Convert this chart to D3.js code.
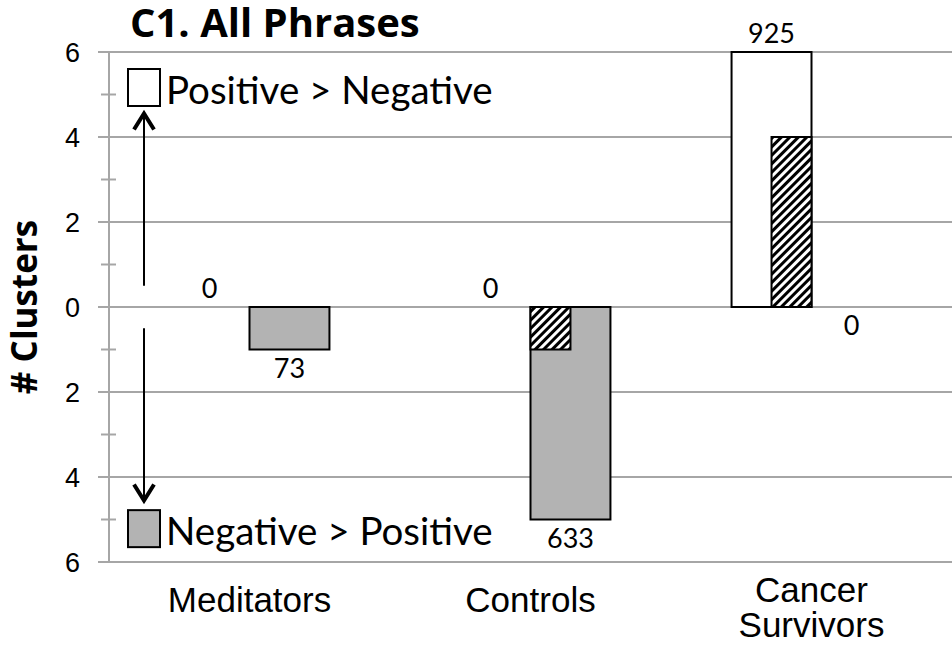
<!DOCTYPE html>
<html>
<head>
<meta charset="utf-8">
<script src="https://cdn.jsdelivr.net/npm/d3@7"></script>
<style>
  html, body { margin: 0; padding: 0; background: #fff; }
  svg { display: block; }
</style>
</head>
<body>
<svg id="chart" width="952" height="648"></svg>
<script>
// ---- data ----
const categories = ["Meditators", "Controls", "Cancer Survivors"];
const positiveClusters = [0, 0, 6];      // white bars: Positive > Negative
const negativeClusters = [1, 5, 0];      // gray bars: Negative > Positive
const positiveHatched = [0, 0, 4];       // hatched part inside white bars
const negativeHatched = [0, 1, 0];       // hatched part inside gray bars
const positiveLabels = ["0", "0", "925"];
const negativeLabels = ["73", "633", "0"];
const yTickValues = [-6, -4, -2, 0, 2, 4, 6];
const yMinorTickValues = [-5, -3, -1, 1, 3, 5];
const legendLabels = ["Positive > Negative", "Negative > Positive"];
const titleText = "C1. All Phrases";
const yAxisTitle = "# Clusters";

(function () {
// ---- layout ----
const svg = d3.select("#chart");
const plotLeft = 109, plotRight = 952, plotTop = 52, plotBottom = 562;
const calibri = "Lato, 'Open Sans', sans-serif";
const calibriBold = "'Open Sans', Lato, sans-serif";
const arial = "'Liberation Sans', Arial, sans-serif";
const gridColor = "#a6a6a6";
const grayFill = "#b3b3b3";

const x = d3.scaleBand().domain(categories).range([plotLeft, plotRight])
  .paddingInner(0.431).paddingOuter(0.2155);
const xs = d3.scaleBand().domain(["pos", "neg"]).range([0, x.bandwidth()]);
const y = d3.scaleLinear().domain([-6, 6]).range([plotBottom, plotTop]);

// hatch pattern
const defs = svg.append("defs");
const pat = defs.append("pattern").attr("id", "hatch")
  .attr("patternUnits", "userSpaceOnUse").attr("width", 6).attr("height", 6)
  .attr("patternTransform", "rotate(45)");
pat.append("rect").attr("width", 6).attr("height", 6).attr("fill", "#fff");
pat.append("rect").attr("x", 0).attr("y", 0).attr("width", 3).attr("height", 6).attr("fill", "#000");

// gridlines (major ticks extend left of axis)
svg.append("g").selectAll("line").data(yTickValues).join("line")
  .attr("x1", plotLeft - 11).attr("x2", plotRight)
  .attr("y1", d => y(d)).attr("y2", d => y(d))
  .attr("stroke", gridColor).attr("stroke-width", 2);

// axis line
svg.append("line").attr("x1", plotLeft).attr("x2", plotLeft)
  .attr("y1", y(6)).attr("y2", y(-6))
  .attr("stroke", gridColor).attr("stroke-width", 2);

// minor ticks (cross)
svg.append("g").selectAll("line").data(yMinorTickValues).join("line")
  .attr("x1", plotLeft - 8).attr("x2", plotLeft + 7)
  .attr("y1", d => y(d)).attr("y2", d => y(d))
  .attr("stroke", gridColor).attr("stroke-width", 2);

// tick labels
svg.append("g").selectAll("text").data(yTickValues).join("text")
  .attr("x", 80).attr("y", d => y(d)).attr("dy", "0.36em")
  .attr("text-anchor", "end")
  .style("font-family", arial).style("font-size", "27px").attr("fill", "#000")
  .text(d => Math.abs(d));

// bars
const bars = svg.append("g");
const idx = d3.range(categories.length);
bars.selectAll(".pos").data(idx.filter(i => positiveClusters[i] > 0)).join("rect")
  .attr("class", "pos")
  .attr("x", i => x(categories[i]) + xs("pos"))
  .attr("width", xs.bandwidth())
  .attr("y", i => y(positiveClusters[i]))
  .attr("height", i => y(0) - y(positiveClusters[i]))
  .attr("fill", "#fff").attr("stroke", "#000").attr("stroke-width", 2);
bars.selectAll(".neg").data(idx.filter(i => negativeClusters[i] > 0)).join("rect")
  .attr("class", "neg")
  .attr("x", i => x(categories[i]) + xs("neg"))
  .attr("width", xs.bandwidth())
  .attr("y", y(0))
  .attr("height", i => y(-negativeClusters[i]) - y(0))
  .attr("fill", grayFill).attr("stroke", "#000").attr("stroke-width", 2);
bars.selectAll(".hpos").data(idx.filter(i => positiveHatched[i] > 0)).join("rect")
  .attr("class", "hpos")
  .attr("x", i => x(categories[i]) + xs("pos") + xs.bandwidth() / 2)
  .attr("width", xs.bandwidth() / 2)
  .attr("y", i => y(positiveHatched[i]))
  .attr("height", i => y(0) - y(positiveHatched[i]))
  .attr("fill", "url(#hatch)").attr("stroke", "#000").attr("stroke-width", 2);
bars.selectAll(".hneg").data(idx.filter(i => negativeHatched[i] > 0)).join("rect")
  .attr("class", "hneg")
  .attr("x", i => x(categories[i]) + xs("neg"))
  .attr("width", xs.bandwidth() / 2)
  .attr("y", y(0))
  .attr("height", i => y(-negativeHatched[i]) - y(0))
  .attr("fill", "url(#hatch)").attr("stroke", "#000").attr("stroke-width", 2);

// value labels
svg.append("g").selectAll("text").data(idx).join("text")
  .attr("x", i => x(categories[i]) + xs("pos") + xs.bandwidth() / 2)
  .attr("y", i => y(positiveClusters[i]) - 9)
  .attr("text-anchor", "middle")
  .style("font-family", calibri).style("font-size", "27px").attr("fill", "#000")
  .text(i => positiveLabels[i]);
svg.append("g").selectAll("text").data(idx).join("text")
  .attr("x", i => x(categories[i]) + xs("neg") + xs.bandwidth() / 2)
  .attr("y", i => y(-negativeClusters[i]) + 28)
  .attr("text-anchor", "middle")
  .style("font-family", calibri).style("font-size", "27px").attr("fill", "#000")
  .text(i => negativeLabels[i]);

// category labels
const catG = svg.append("g");
categories.forEach(c => {
  const words = c.split(" ");
  const cx = x(c) + x.bandwidth() / 2;
  const t = catG.append("text")
    .attr("x", cx)
    .attr("text-anchor", "middle")
    .style("font-family", arial).style("font-size", "35px").attr("fill", "#000");
  if (words.length === 1) {
    t.attr("y", 612).text(c);
  } else {
    words.forEach((w, k) => t.append("tspan").attr("x", cx)
      .attr("y", 602 + k * 35).text(w));
  }
});

// title
svg.append("text").attr("x", 130).attr("y", 37)
  .style("font-family", calibriBold).style("font-weight", "bold").style("font-size", "40px")
  .attr("fill", "#000").text(titleText);

// y axis title
svg.append("text")
  .attr("transform", `translate(37, ${y(0)}) rotate(-90)`)
  .attr("text-anchor", "middle")
  .style("font-family", calibriBold).style("font-weight", "bold").style("font-size", "35px")
  .attr("fill", "#000").text(yAxisTitle);

// legend / annotation
const arrowX = 144;
const ann = svg.append("g");
ann.append("line").attr("x1", arrowX).attr("x2", arrowX)
  .attr("y1", y(0.5)).attr("y2", y(4.6)).attr("stroke", "#000").attr("stroke-width", 2);
ann.append("line").attr("x1", arrowX).attr("x2", arrowX)
  .attr("y1", y(-0.5)).attr("y2", y(-4.6)).attr("stroke", "#000").attr("stroke-width", 2);
ann.append("path")
  .attr("d", `M${arrowX - 10},${y(4.6) + 18} L${arrowX},${y(4.6) + 2} L${arrowX + 10},${y(4.6) + 18}`)
  .attr("fill", "none").attr("stroke", "#000").attr("stroke-width", 4);
ann.append("path")
  .attr("d", `M${arrowX - 10},${y(-4.6) - 18} L${arrowX},${y(-4.6) - 2} L${arrowX + 10},${y(-4.6) - 18}`)
  .attr("fill", "none").attr("stroke", "#000").attr("stroke-width", 4);

const legendTops = [5.6, -4.78];
const legendFills = ["#fff", grayFill];
legendLabels.forEach((lab, k) => {
  const ty = y(legendTops[k]);
  ann.append("rect").attr("x", 128).attr("y", ty).attr("width", 32).attr("height", 37)
    .attr("fill", legendFills[k]).attr("stroke", "#000").attr("stroke-width", 2);
  ann.append("text").attr("x", 166).attr("y", ty + 35)
    .style("font-family", calibri).style("font-size", "38.5px").attr("fill", "#000")
    .text(lab);
});
})();
</script>
</body>
</html>
